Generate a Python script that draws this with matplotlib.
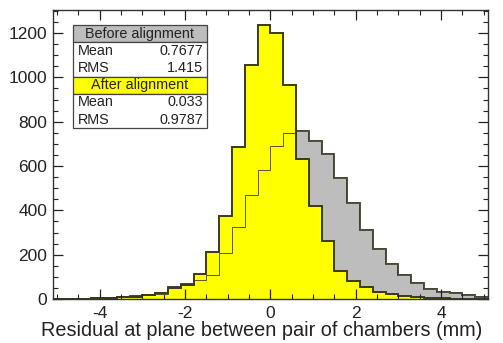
import numpy as np
import matplotlib
matplotlib.use("Agg")
import matplotlib.pyplot as plt
from matplotlib.patches import Rectangle
from matplotlib.ticker import MultipleLocator

plt.rcParams["font.family"] = ["Liberation Sans", "DejaVu Sans"]
plt.rcParams["axes.unicode_minus"] = False

# Histogram contents, 34 bins of 0.3 mm between -5.1 and 5.1
bin_edges = np.round(np.arange(-5.1, 5.1001, 0.3), 2)

before_counts = [0, 1, 2, 4, 6, 8, 12, 18, 25, 55, 70, 85, 110, 207, 323, 469, 582,
                 691, 749, 758, 714, 654, 548, 432, 312, 226, 160, 108, 72, 44,
                 34, 26, 18, 11]
after_counts = [0, 1, 2, 3, 5, 8, 10, 18, 28, 48, 63, 113, 213, 377, 687, 1055, 1236,
                1201, 965, 630, 420, 262, 127, 82, 55, 33, 22, 12, 8, 5,
                3, 2, 1, 1]

stats_rows = [
    ("Before alignment", [("Mean", "0.7677"), ("RMS", "1.415")]),
    ("After alignment", [("Mean", "0.033"), ("RMS", "0.9787")]),
]
header_colors = ["#bdbdbd", "#ffff00"]

fig = plt.figure(figsize=(5.03, 3.43), dpi=100)
ax = fig.add_axes([0.105, 0.128, 0.865, 0.843])

# before: grey filled, after: yellow filled on top, before outline redrawn thin
ax.stairs(before_counts, bin_edges, fill=True, color="#bdbdbd")
ax.stairs(before_counts, bin_edges, color="#333333", linewidth=1.3)
ax.stairs(after_counts, bin_edges, fill=True, color="#ffff00")
ax.stairs(before_counts, bin_edges, color="#555533", linewidth=0.7)
ax.stairs(after_counts, bin_edges, color="#3a3a1a", linewidth=1.4)

ax.set_xlim(-5.1, 5.1)
ax.set_ylim(0, 1304)
ax.xaxis.set_major_locator(MultipleLocator(2))
ax.xaxis.set_minor_locator(MultipleLocator(0.5))
ax.yaxis.set_major_locator(MultipleLocator(200))
ax.yaxis.set_minor_locator(MultipleLocator(50))
ax.tick_params(which="both", direction="in", top=True, right=True,
               labelsize=12.5, colors="#222222")
ax.tick_params(axis="x", which="major", pad=5)
ax.tick_params(axis="y", which="major", pad=4)
ax.tick_params(which="major", length=7, width=0.9)
ax.tick_params(which="minor", length=3.5, width=0.8)
for s in ax.spines.values():
    s.set_linewidth(1.0)
    s.set_color("#333333")

ax.set_xlabel("Residual at plane between pair of chambers (mm)", fontsize=14.3,
              color="#222222")
ax.xaxis.set_label_coords(0.479, -0.075)

# stats box
bx0, bx1 = 0.046, 0.354
row_h = 0.0595
y = 0.948
for (title, rows), hc in zip(stats_rows, header_colors):
    ax.add_patch(Rectangle((bx0, y - row_h), bx1 - bx0, row_h, transform=ax.transAxes,
                           facecolor=hc, edgecolor="#444444", linewidth=0.9, zorder=5))
    ax.text((bx0 + bx1) / 2, y - row_h / 2, title, transform=ax.transAxes,
            ha="center", va="center", fontsize=10.4, color="#222222", zorder=6)
    y -= row_h
    ax.add_patch(Rectangle((bx0, y - row_h * len(rows)), bx1 - bx0, row_h * len(rows),
                           transform=ax.transAxes, facecolor="white",
                           edgecolor="#444444", linewidth=0.9, zorder=5))
    for name, val in rows:
        ax.text(bx0 + 0.012, y - row_h / 2, name, transform=ax.transAxes,
                ha="left", va="center", fontsize=10.4, color="#222222", zorder=6)
        ax.text(bx1 - 0.008, y - row_h / 2, val, transform=ax.transAxes,
                ha="right", va="center", fontsize=10.4, color="#222222", zorder=6)
        y -= row_h

fig.savefig("out.png", dpi=100)
